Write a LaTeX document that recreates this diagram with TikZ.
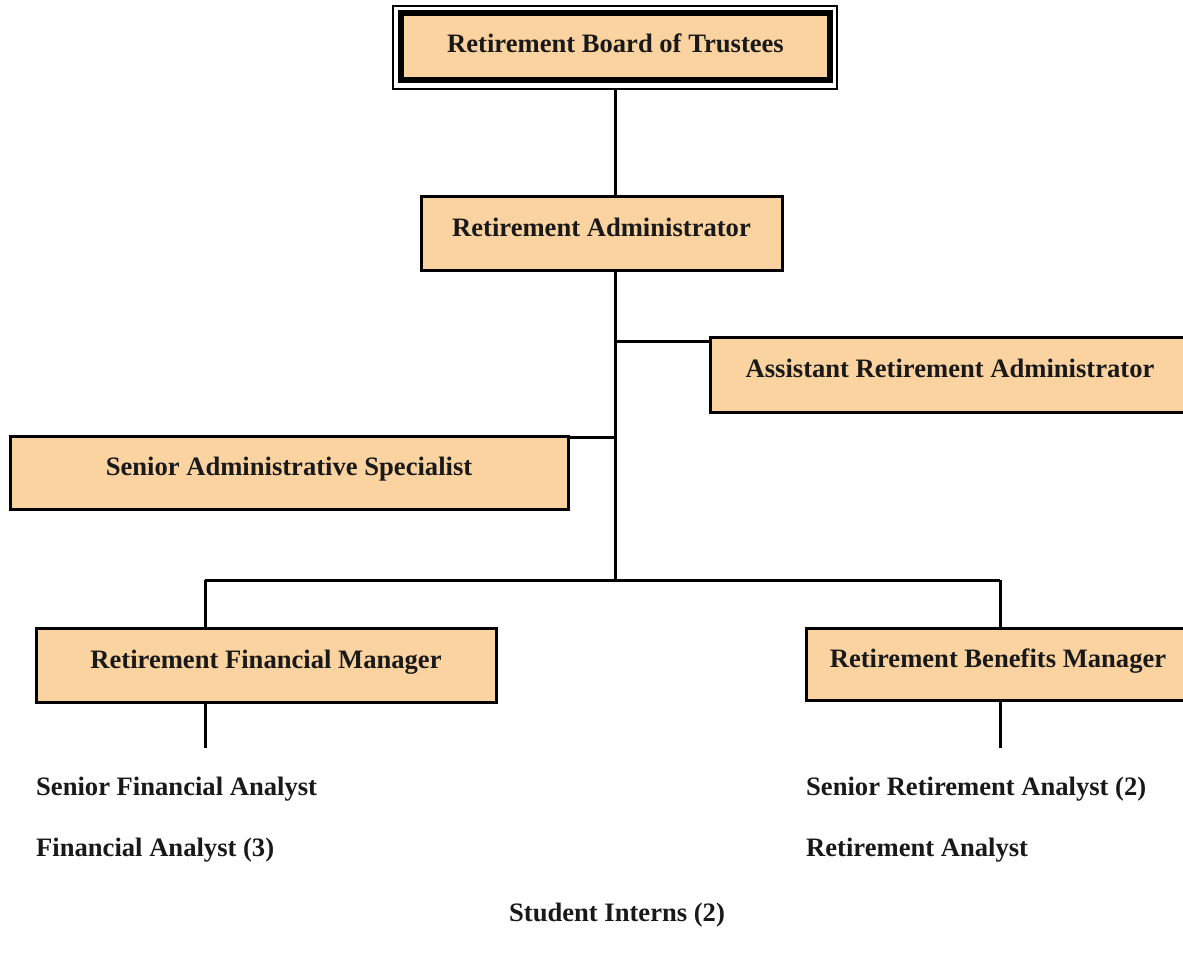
\documentclass[tikz,border=0pt]{standalone}
\usepackage{fontspec}
\setmainfont{Liberation Serif}
\definecolor{boxfill}{RGB}{250,211,160}
\begin{document}
\begin{tikzpicture}[x=1pt,y=-1pt,
  txt/.style={font=\fontsize{26.6}{30}\selectfont\bfseries, text=black!90},
  box/.style={txt, draw=black, line width=3pt, fill=boxfill, inner sep=0pt, text height=20pt, text depth=14pt},
  ln/.style={line width=3pt},
  lbl/.style={txt, anchor=west, inner sep=0pt}]
\clip (0,0) rectangle (1183,958);
\fill[white] (0,0) rectangle (1183,958);
% top box with double frame
\node[draw=black, line width=1.2pt, minimum width=444pt, minimum height=83pt, inner sep=0pt] (bout) at (615,47.5) {};
\node[box, line width=5.5pt, minimum width=429pt, minimum height=67pt, text depth=8pt] (board) at (615.5,46.5) {Retirement Board of Trustees};
\node[box, minimum width=361pt, minimum height=74pt] (adm) at (601.5,233) {Retirement Administrator};
\node[box, minimum width=480pt, minimum height=75pt] (asst) at (950,374.5) {Assistant Retirement Administrator};
\node[box, minimum width=558pt, minimum height=73pt] (sas) at (289,472.5) {Senior Administrative Specialist};
\node[box, minimum width=460pt, minimum height=74pt] (rfm) at (266,665) {Retirement Financial Manager};
\node[box, minimum width=384pt, minimum height=72pt] (rbm) at (998,664) {Retirement Benefits Manager};
% connectors
\coordinate (s1) at (615,341);
\coordinate (s2) at (615,437);
\coordinate (s3) at (615,580);
\coordinate (lft) at (205,580);
\coordinate (rgt) at (1000,580);
\coordinate (lend) at (205,748);
\coordinate (rend) at (1000,748);
\draw[ln] (bout.south) -- (bout.south |- adm.north);
\draw[ln] (adm.south -| bout.south) -- (s3);
\draw[ln] (s1) -- (s1 -| asst.west);
\draw[ln] (s2) -- (s2 -| sas.east);
\draw[ln] (lft) -- (rgt);
\draw[ln] (lft) -- (lft |- rfm.north);
\draw[ln] (rgt) -- (rgt |- rbm.north);
\draw[ln] (lend |- rfm.south) -- (lend);
\draw[ln] (rend |- rbm.south) -- (rend);
% staff labels
\node[lbl] (l1) at (36,789) {Senior Financial Analyst};
\node[lbl] (l2) at (36,850) {Financial Analyst (3)};
\node[lbl] (l3) at (806,789) {Senior Retirement Analyst (2)};
\node[lbl] (l4) at (806,850) {Retirement Analyst};
\node[txt, inner sep=0pt] (l5) at (617,915) {Student Interns (2)};
\end{tikzpicture}
\end{document}
